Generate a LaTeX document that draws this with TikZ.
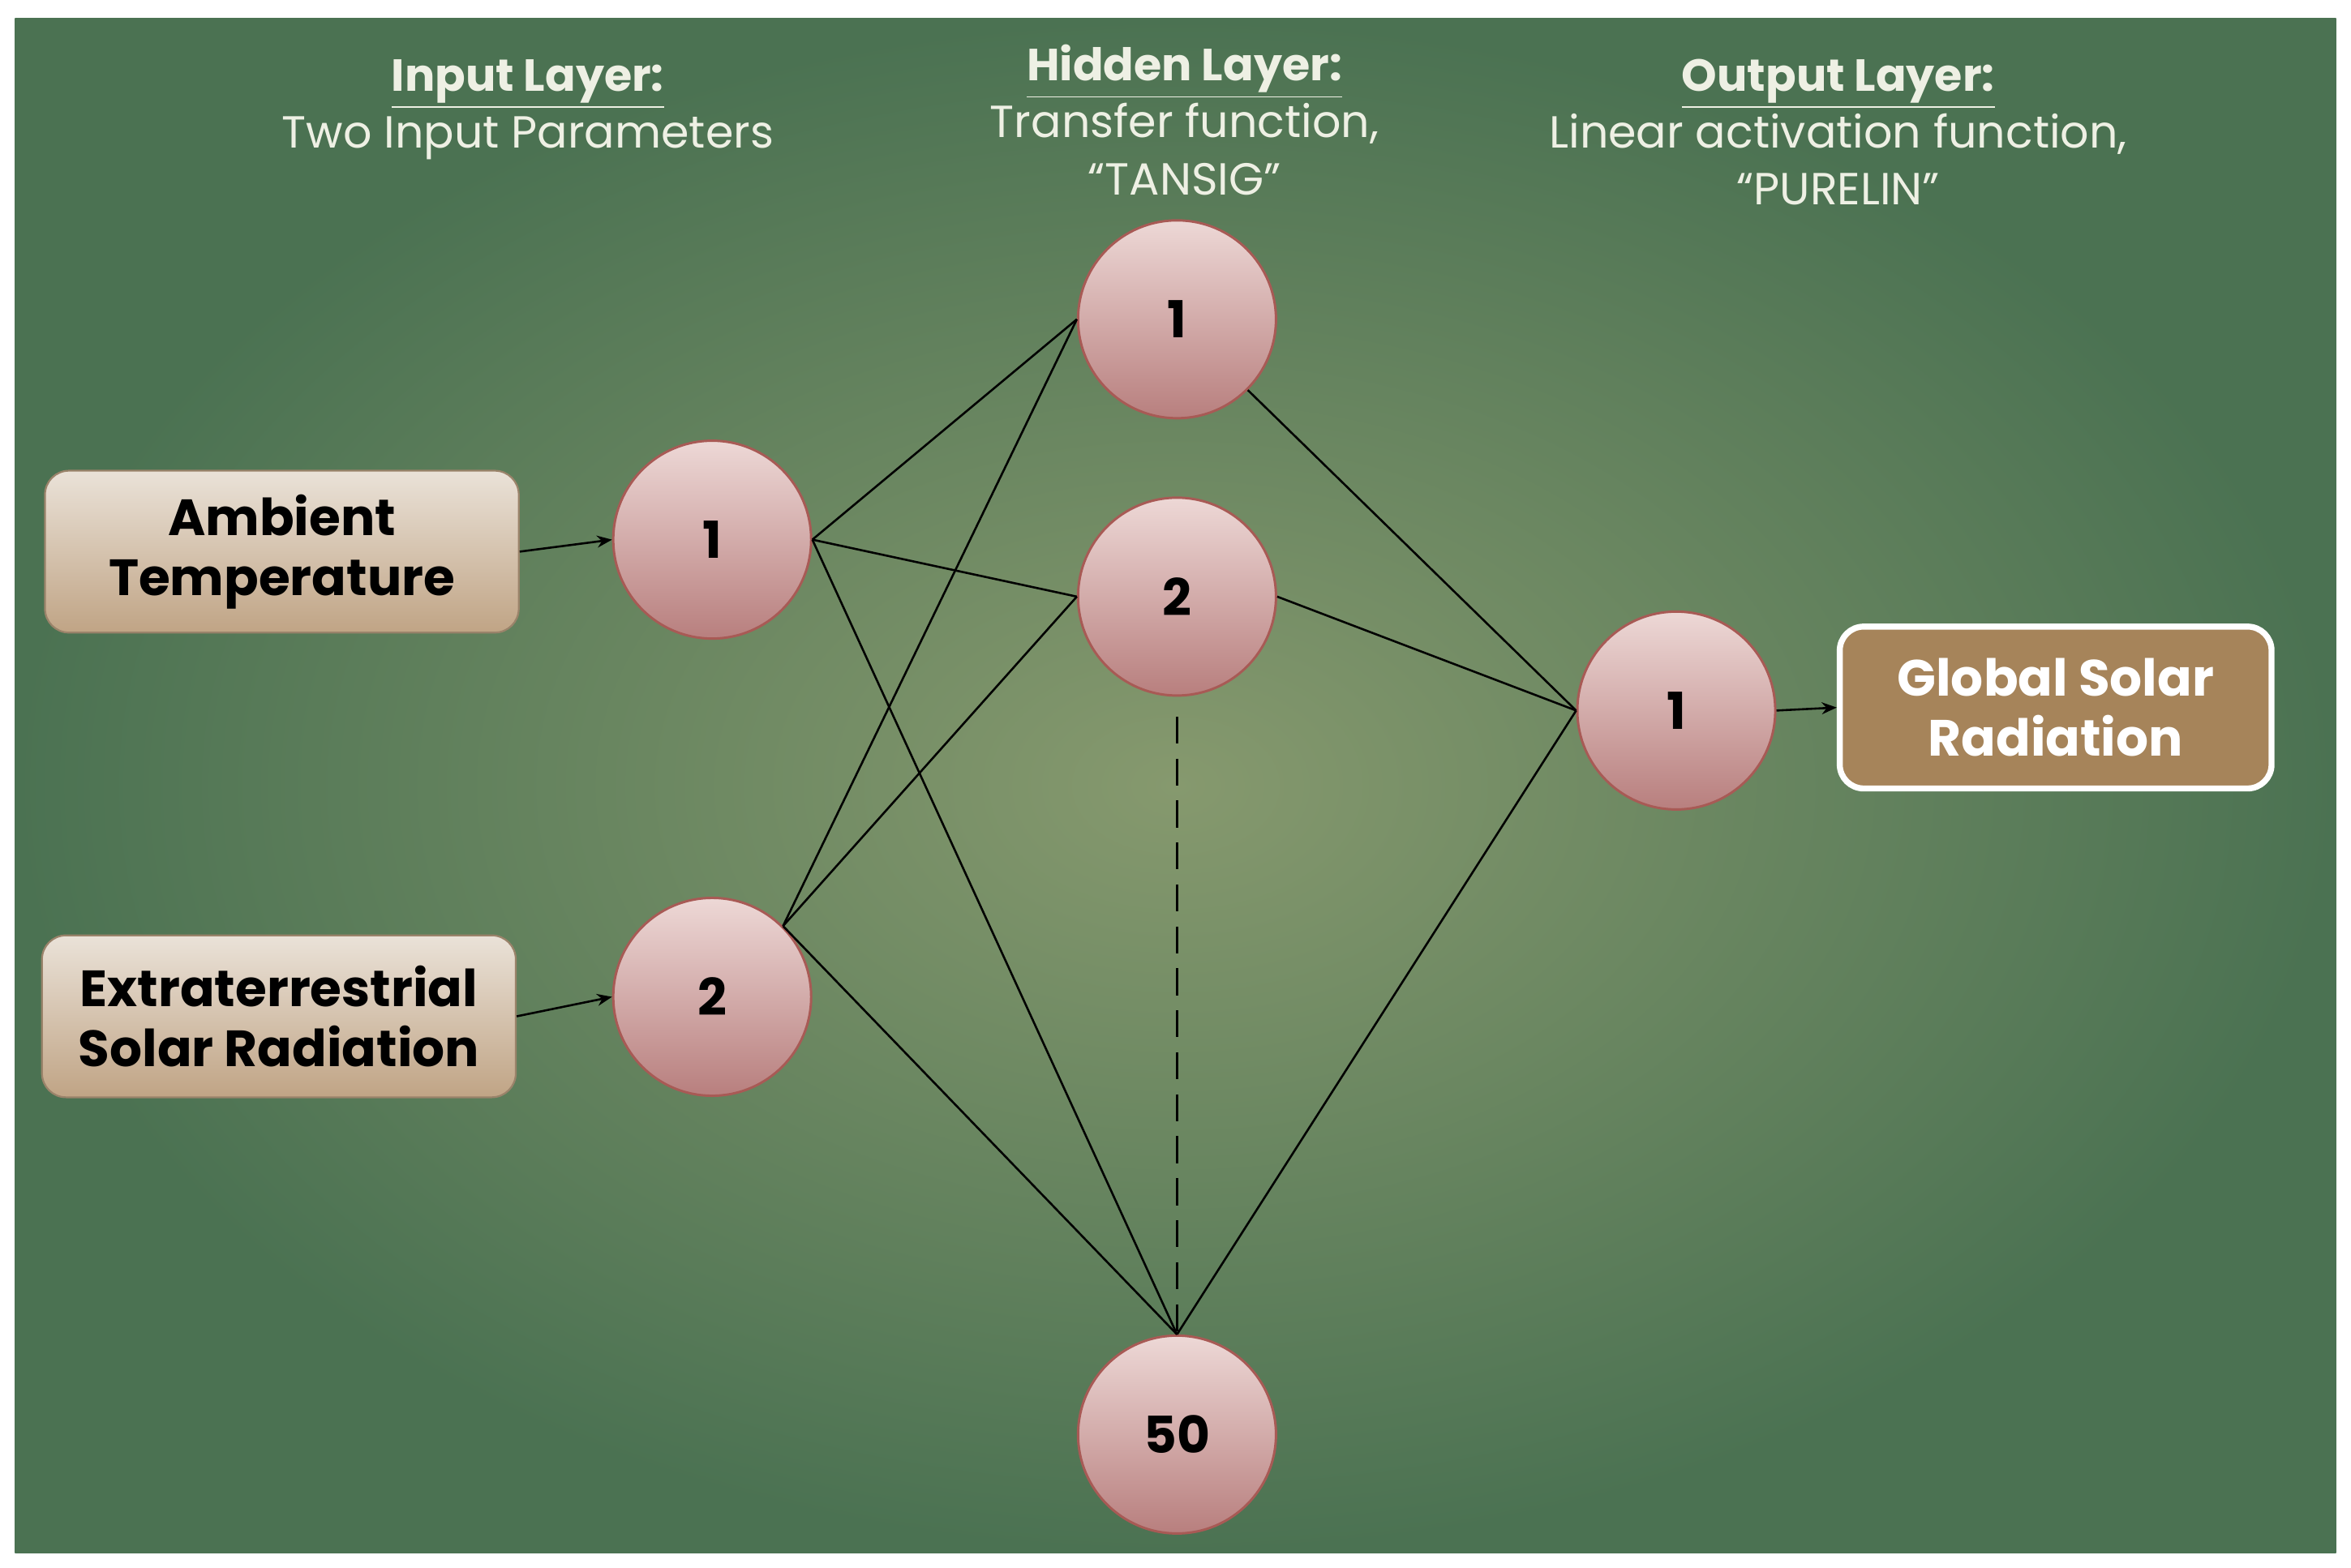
\documentclass[tikz,border=0pt]{standalone}
\usepackage{fontspec}
\setmainfont{Poppins}
\usetikzlibrary{arrows.meta}
\definecolor{bgin}{HTML}{86996E}
\definecolor{bgout}{HTML}{4B7252}
\definecolor{ctop}{HTML}{EDD8D6}
\definecolor{cbot}{HTML}{B87F7E}
\definecolor{cbor}{HTML}{A85A55}
\definecolor{btop}{HTML}{EAE2D8}
\definecolor{bbot}{HTML}{C0A485}
\definecolor{gout}{HTML}{A6845A}
\definecolor{hdr}{HTML}{EEF0E4}
\begin{document}
\begin{tikzpicture}[x=0.5pt,y=-0.5pt,
  neuron/.style={circle,minimum size=66pt,draw=cbor,line width=0.8pt,top color=ctop,bottom color=cbot,font=\fontsize{17}{20}\selectfont\bfseries,inner sep=0pt},
  ibox/.style={rounded corners=8pt,draw=bbot!80!black,line width=0.6pt,top color=btop,bottom color=bbot,minimum width=158pt,minimum height=54pt,align=center,font=\fontsize{17}{20}\selectfont\bfseries,text=black},
  obox/.style={rounded corners=8pt,draw=white,line width=2pt,fill=gout,minimum width=144pt,minimum height=54pt,align=center,font=\fontsize{17}{20}\selectfont\bfseries,text=white},
  hd/.style={align=center,text=hdr,font=\fontsize{15}{19}\selectfont},
  con/.style={line width=0.7pt},
  arr/.style={line width=0.7pt,-{Stealth[length=5pt,width=4pt]}}]
\useasboundingbox (0,0) rectangle (1568,1046);
\fill[white] (0,0) rectangle (1568,1046);
\shade[inner color=bgin,outer color=bgout] (10,12) rectangle (1558,1036);
% headers
\node[hd] (h1) at (352,73) {\textbf{\underline{Input Layer:}}\\Two Input Parameters};
\node[hd] (h2) at (790,80) {\textbf{\underline{Hidden Layer:}}\\Transfer function,\\“TANSIG”};
\node[hd] (h3) at (1226,88) {\textbf{\underline{Output Layer:}}\\Linear activation function,\\“PURELIN”};
% neurons
\node[neuron] (i1) at (475,360) {1};
\node[neuron] (i2) at (475,665) {2};
\node[neuron] (n1) at (785,213) {1};
\node[neuron] (n2) at (785,398) {2};
\node[neuron] (n50) at (785,957) {50};
\node[neuron] (o1) at (1118,474) {1};
% boxes
\node[ibox] (a) at (188,368) {Ambient\\Temperature};
\node[ibox] (e) at (186,678) {Extraterrestrial\\Solar Radiation};
\node[obox] (g) at (1371,472) {Global Solar\\Radiation};
% connections
\draw[arr] (a.east) -- (i1.west);
\draw[arr] (e.east) -- (i2.west);
\draw[arr] (o1.east) -- (g.west);
\draw[con] (i1.east) -- (n1.west);
\draw[con] (i1.east) -- (n2.west);
\draw[con] (i1.east) -- (n50.north);
\draw[con] (i2.north east) -- (n1.west);
\draw[con] (i2.north east) -- (n2.west);
\draw[con] (i2.north east) -- (n50.north);
\draw[con] (n1.south east) -- (o1.west);
\draw[con] (n2.east) -- (o1.west);
\draw[con] (n50.north) -- (o1.west);
\coordinate (d1) at (785,478);
\draw[con,dash pattern=on 9pt off 5pt] (d1) -- (n50.north);
\end{tikzpicture}
\end{document}
